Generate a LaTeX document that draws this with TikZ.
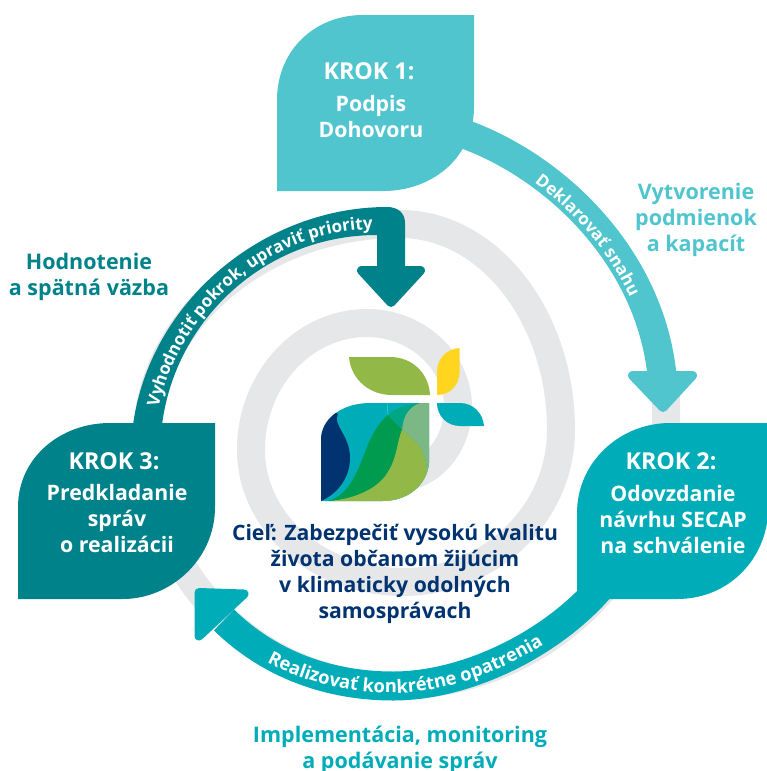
\documentclass[tikz,border=0pt]{standalone}
\usepackage{fontspec}
\setmainfont{Open Sans}
\usetikzlibrary{decorations.text}
\definecolor{cLight}{HTML}{50C5CE}
\definecolor{cMid}{HTML}{00ACB8}
\definecolor{cDark}{HTML}{00828A}
\definecolor{cGray}{HTML}{E6E7E8}
\definecolor{cNavy}{HTML}{00336F}
\definecolor{cOlive}{HTML}{92B847}
\definecolor{cGreen}{HTML}{009B4F}
\definecolor{cYellow}{HTML}{FFD520}
\definecolor{cPale}{HTML}{7BB886}
\definecolor{cSea}{HTML}{00A684}
\tikzset{
  spiral/.style={draw=cGray,line width=28pt,line cap=butt},
  band/.style={line width=29pt,line cap=butt},
  head/.style={line width=9pt,line join=round},
  stepname/.style={font=\bfseries\fontsize{23.3}{26}\selectfont,text=white,inner sep=0pt,align=center},
  stepbody/.style={font=\bfseries\fontsize{21.3}{26}\selectfont,text=white,inner sep=0pt,align=center},
  outerlabel/.style={font=\bfseries\fontsize{21.5}{26}\selectfont,inner sep=0pt,align=center},
  goal/.style={font=\bfseries\fontsize{21.2}{26}\selectfont,text=cNavy,inner sep=0pt,align=center},
}
\newcommand{\bandfont}{\bfseries\fontsize{17}{18}\selectfont\color{white}}
\newcommand{\bandfontb}{\bfseries\fontsize{18.4}{18}\selectfont\color{white}}
\begin{document}
\begin{tikzpicture}[x=1pt,y=-1pt]
\useasboundingbox (0,0) rectangle (767,771);
% gray spiral
\draw[spiral] (395,478) .. controls (430,478) and (458,446) .. (458,407)
  .. controls (458,361) and (417,323) .. (367,323)
  .. controls (303,323) and (251,380) .. (251,450)
  .. controls (251,523) and (319,582) .. (403,582)
  .. controls (490,582) and (561,514) .. (561,430)
  .. controls (561,317) and (489,224) .. (400,224)
  .. controls (261,224) and (147,321) .. (147,440)
  .. controls (147,575) and (258,686) .. (393,686)
  .. controls (543,686) and (666,566) .. (666,420) -- (666,380);
% anchor coordinates of the connectors
\coordinate (k1out) at (467,135);
\coordinate (k2in) at (662,375);
\coordinate (k2out) at (608,578);
\coordinate (k3in) at (224,620);
\coordinate (botmid) at (393,686);
% light arrow
\draw[band,cLight] (k1out) .. controls (560,170) and (650,260) .. (k2in);
\filldraw[head,cLight] (632.5,375.5) -- (692.5,375.5) -- (663,407.5) -- cycle;
% bottom arrow
\draw[band,cMid] (k2out) .. controls (560,640) and (470,686) .. (botmid)
   .. controls (330,686) and (270,665) .. (k3in);
\filldraw[head,cMid] (199,592.5) -- (244,594) -- (199,636) -- cycle;
% dark arrow
\fill[cDark] (133,425) .. controls (150,300) and (265,207) .. (387,207)
   .. controls (398,207) and (405,213) .. (405,223) -- (405,270) -- (377,270) -- (377,235)
   .. controls (265,235) and (175,320) .. (162,425) -- cycle;
\filldraw[head,cDark] (361.5,270.5) -- (420.5,270.5) -- (391,302.5) -- cycle;
% step leaves
\fill[cLight] (277,191) -- (277,100) .. controls (277,50) and (315,15) .. (363,15) -- (474,15) -- (474,107)
   .. controls (474,155) and (435,191) .. (383,191) -- cycle;
\fill[cMid] (577,599) -- (577,513) .. controls (577,462) and (620,423) .. (670,423) -- (767,423) -- (767,523)
   .. controls (760,565) and (725,599) .. (677,599) -- cycle;
\fill[cDark] (18,599) -- (18,507) .. controls (18,458) and (60,423) .. (110,423) -- (215,423) -- (215,507)
   .. controls (215,560) and (170,599) .. (123,599) -- cycle;
% logo
\fill[cOlive] (349,357) -- (390,357) .. controls (413,357) and (429,374) .. (430,395) -- (392,395)
   .. controls (370,395) and (351,380) .. (349,357) -- cycle;
\fill[cYellow] (459.5,348) -- (459.5,372) .. controls (459.5,385) and (450,395) .. (437,395) -- (437,372)
   .. controls (437,358) and (447,349) .. (459.5,348) -- cycle;
\fill[cMid] (437,403) -- (460,403) .. controls (473,403) and (483,413) .. (484,426) -- (460,426)
   .. controls (447,426) and (437,416) .. (437,403) -- cycle;
\begin{scope}
\clip (321,501) -- (321,440) .. controls (321,418) and (343,403) .. (370,403) -- (429,403) -- (429,463)
   .. controls (427,485) and (408,501) .. (383,501) -- cycle;
\fill[cMid] (315,395) rectangle (435,505);
\fill[cNavy] (315,505) -- (315,400) -- (338,414) .. controls (332,425) and (350,435) .. (350,458)
   .. controls (350,480) and (335,495) .. (321,501) -- cycle;
\fill[cOlive] (325,505) -- (325,501) -- (328,501) .. controls (355,499) and (378,488) .. (387,473)
   .. controls (397,458) and (396,445) .. (402,429)
   .. controls (415,440) and (427,450) .. (427,472) -- (435,505) -- cycle;
\fill[cGreen] (328,501) .. controls (350,495) and (358,470) .. (367,447)
   .. controls (371,437) and (378,423) .. (388,415) -- (402,429)
   .. controls (396,445) and (397,458) .. (387,473)
   .. controls (378,488) and (355,499) .. (328,501) -- cycle;
\fill[cPale] (420,403) .. controls (410,406) and (403,415) .. (402,429)
   .. controls (415,440) and (427,450) .. (427,472) -- (435,472) -- (435,403) -- cycle;
\fill[cSea] (388,415) .. controls (395,408) and (408,404) .. (420,403)
   .. controls (410,406) and (403,415) .. (402,429) -- cycle;
\draw[white,opacity=.4,line width=.4pt] (387,403) -- (388,415);
\end{scope}
% band texts
\path[decorate,decoration={text along path,text align={left indent=85pt},
  text={|\bandfont|Deklarovať snahu}}]
  (460,142) .. controls (553,177) and (640,265) .. (652,375);
\path[decorate,decoration={text along path,text align={left indent=18pt},
  text={|\bandfont|Vyhodnotiť pokrok, upraviť priority}}]
  (155,425) .. controls (172,315) and (265,229) .. (377,229) -- (420,229);
\path[decorate,decoration={text along path,text align={left indent=52pt},
  text={|\bandfontb|Realizovať konkrétne opatrenia}}]
  (224,633) .. controls (270,672) and (330,693) .. (393,693) .. controls (470,693) and (565,645) .. (612,585);
% texts
\node[stepname] (t1a) at (369,71) {KROK 1:};
\node[stepbody] (t1b) at (371,117) {Podpis\\Dohovoru};
\node[stepname] (t2a) at (671,461) {KROK 2:};
\node[stepbody] (t2b) at (673,520) {Odovzdanie\\návrhu SECAP\\na schválenie};
\node[stepname] (t3a) at (114,461) {KROK 3:};
\node[stepbody] (t3b) at (117,519) {Predkladanie\\správ\\o realizácii};
\node[outerlabel,text=cLight] (l1) at (696,220) {Vytvorenie\\podmienok\\a kapacít};
\node[outerlabel,text=cDark] (l2) at (89,277) {Hodnotenie\\a spätná väzba};
\node[outerlabel,text=cMid] (l3) at (400,750) {Implementácia, monitoring\\a podávanie správ};
\node[goal] (g) at (395,574) {Cieľ: Zabezpečiť vysokú kvalitu\\života občanom žijúcim\\v klimaticky odolných\\samosprávach};
\end{tikzpicture}
\end{document}
